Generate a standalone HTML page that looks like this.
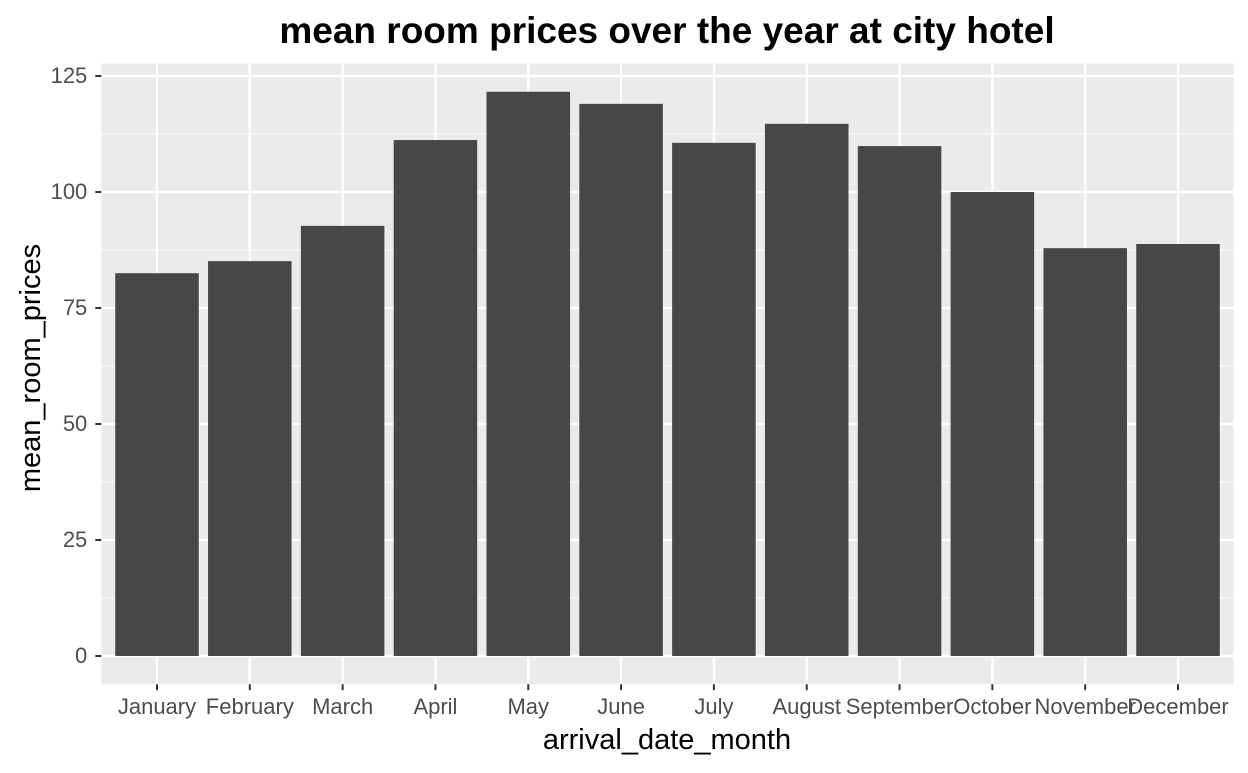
<!DOCTYPE html>
<html><head><meta charset="utf-8"><style>
body{margin:0;background:#fff;font-family:"Liberation Sans",Arial,sans-serif}
</style></head><body>
<svg id="c" width="1248" height="768" xmlns="http://www.w3.org/2000/svg"></svg>
<script>
const categories=["January","February","March","April","May","June","July","August","September","October","November","December"];
const values=[82.5,85.1,92.7,111.2,121.6,119.0,110.6,114.7,109.9,100.0,87.9,88.8];
const yTicks=[0,25,50,75,100,125];
const svg=document.getElementById('c');
const NS="http://www.w3.org/2000/svg";
const L=101.3,R=1233.7,T=63.5,B=684.2;
const ymin=-6.08,ymax=127.7;
const y=v=>B-(v-ymin)/(ymax-ymin)*(B-T);
const step=(R-L)/(categories.length-1+1.2);
const x=i=>L+step*(0.6+i);
const bw=step*0.9;
function el(t,a,p){const e=document.createElementNS(NS,t);for(const k in a)e.setAttribute(k,a[k]);(p||svg).appendChild(e);return e;}
const panel=el('rect',{x:L,y:T,width:R-L,height:B-T,fill:'#ebebeb'});


for(let i=0;i<yTicks.length-1;i++){const m=(yTicks[i]+yTicks[i+1])/2;const g=el('line',{x1:L,x2:R,y1:y(m),y2:y(m),stroke:'#fff','stroke-width':1});

}
yTicks.forEach(v=>{const g=el('line',{x1:L,x2:R,y1:y(v),y2:y(v),stroke:'#fff','stroke-width':2.2});


const tk=el('line',{x1:L-6,x2:L,y1:y(v),y2:y(v),stroke:'#333','stroke-width':2});


const t=el('text',{x:L-14,y:y(v)+7,'text-anchor':'end','font-size':22,fill:'#4d4d4d'});t.textContent=v;

});
categories.forEach((c,i)=>{const g=el('line',{x1:x(i),x2:x(i),y1:T,y2:B,stroke:'#fff','stroke-width':2.2});

});
categories.forEach((c,i)=>{const r=el('rect',{x:x(i)-bw/2,y:y(values[i]),width:bw,height:y(0)-y(values[i]),fill:'#474747'});


const tk=el('line',{x1:x(i),x2:x(i),y1:B,y2:B+6,stroke:'#333','stroke-width':2});


const t=el('text',{x:x(i),y:B+30,'text-anchor':'middle','font-size':22,fill:'#4d4d4d'});t.textContent=c;

});
let t=el('text',{x:667,y:749,'text-anchor':'middle','font-size':29,fill:'#000'});t.textContent='arrival_date_month';


t=el('text',{x:0,y:0,'text-anchor':'middle','font-size':29,fill:'#000',transform:'translate(40,368) rotate(-90)'});t.textContent='mean_room_prices';


t=el('text',{x:667,y:43,'text-anchor':'middle','font-size':37,'font-weight':'bold',fill:'#000'});t.textContent='mean room prices over the year at city hotel';


</script>
</body></html>
